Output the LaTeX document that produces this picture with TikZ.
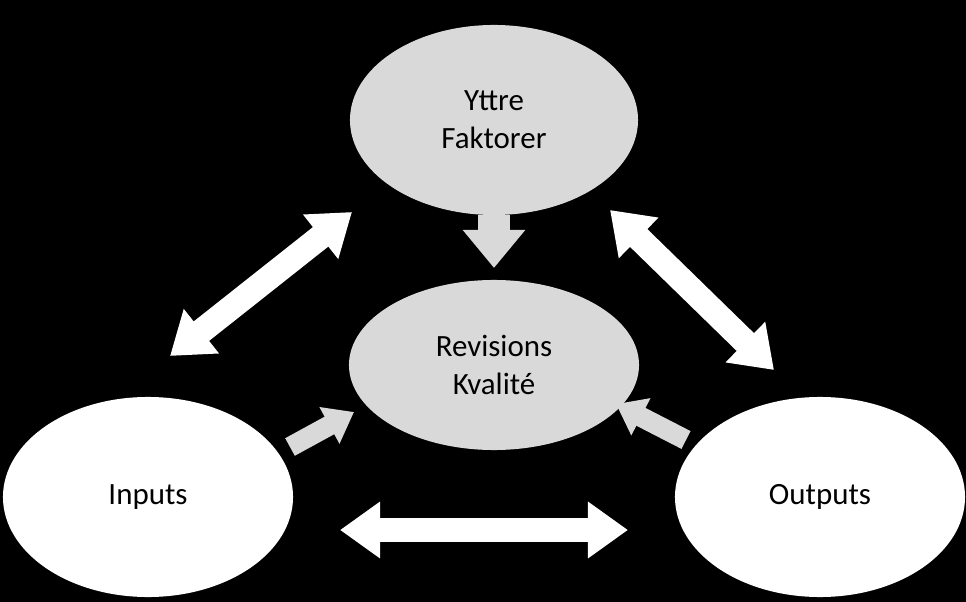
\documentclass[tikz,border=0pt]{standalone}
\usepackage{fontspec}
\setmainfont{Carlito}
\usetikzlibrary{shapes.geometric,arrows.meta,positioning}
\tikzset{
  blob/.style={ellipse, draw=none, text width=3cm, align=center, font=\fontsize{22}{27}\selectfont},
  fat/.style={white, line width=0.62cm, {Triangle[width=1.35cm,length=1.0cm]}-{Triangle[width=1.35cm,length=1.0cm]}},
  push/.style={black!15, line width=0.5cm, -{Triangle[width=1.0cm,length=0.7cm]}},
  down/.style={black!15, line width=0.8cm, -{Triangle[width=1.5cm,length=0.95cm]}}
}
\begin{document}
\begin{tikzpicture}[x=0.025cm, y=-0.025cm]
\fill[black] (0,0) rectangle (966,602);
\useasboundingbox (0,0) rectangle (966,602);

\node [blob, fill=black!15, minimum width=7.2cm, minimum height=4.75cm] (yttre) at (494,120) {Yttre\\Faktorer};
\node [blob, fill=black!15, minimum width=7.25cm, minimum height=4.25cm] (rev) at (494,365) {Revisions\\Kvalité};
\node [blob, fill=white, minimum width=7.25cm, minimum height=5cm] (inputs) at (148,497) {Inputs};
\node [blob, fill=white, minimum width=7.25cm, minimum height=5cm] (outputs) at (820,497) {Outputs};

% arrow ends
\coordinate (tl-a) at (170,356);
\coordinate (tl-b) at (352,212);
\coordinate (tr-a) at (610,210);
\coordinate (tr-b) at (774,370);
\coordinate (bt-a) at (340,530);
\coordinate (bt-b) at (628,530);
\coordinate (dn-a) at (494,215);
\coordinate (dn-b) at (494,268);
\coordinate (in-a) at (290,447);
\coordinate (in-b) at (354,412);
\coordinate (out-a) at (686,440);
\coordinate (out-b) at (616,404);

\draw [fat] (tl-a) -- (tl-b);
\draw [fat] (tr-a) -- (tr-b);
\draw [fat] (bt-a) -- (bt-b);
\draw [down] (dn-a) -- (dn-b);
\draw [push] (in-a) -- (in-b);
\draw [push] (out-a) -- (out-b);

\end{tikzpicture}
\end{document}
